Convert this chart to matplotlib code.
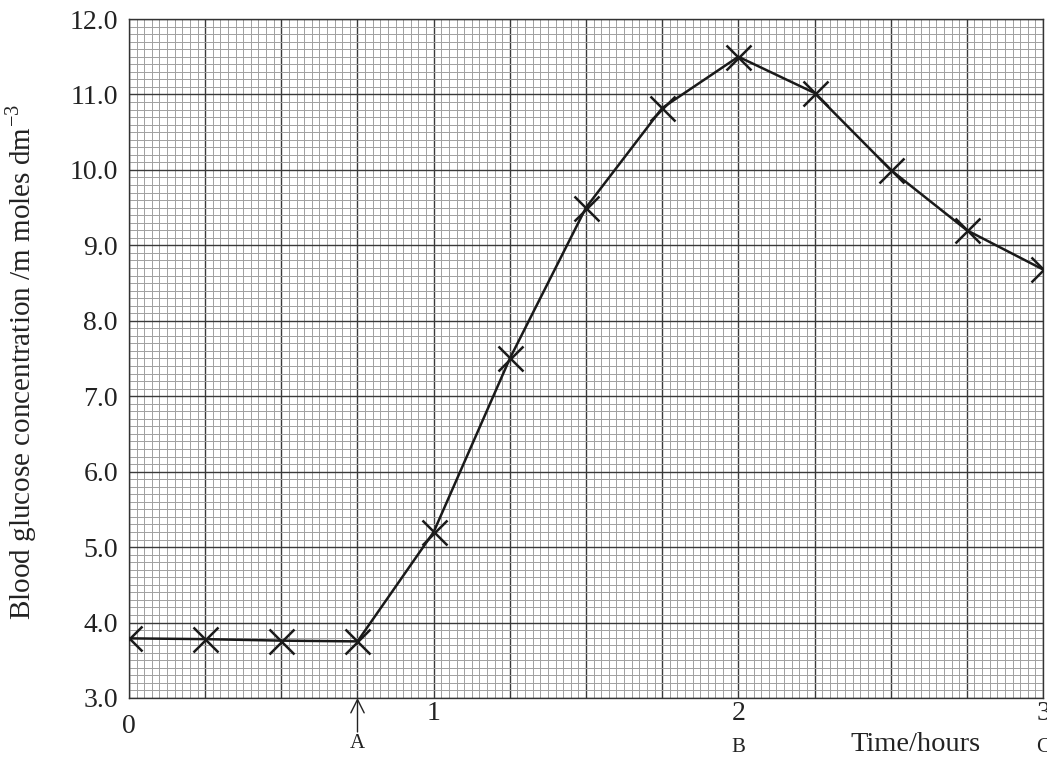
#!/usr/bin/env python
"""
Blood glucose concentration over time, drawn on graph paper style grid.
"""

import numpy as np
import matplotlib
matplotlib.use("Agg")
import matplotlib.pyplot as plt

# Data
time_hours = [0, 0.25, 0.5, 0.75, 1.0, 1.25, 1.5, 1.75, 2.0, 2.25, 2.5, 2.75, 3.0]
glucose = [3.79, 3.78, 3.76, 3.75, 5.2, 7.5, 9.5, 10.82, 11.5, 11.02, 10.0, 9.2, 8.68]

y_ticks = [3, 4, 5, 6, 7, 8, 9, 10, 11, 12]
y_tick_labels = ["3.0", "4.0", "5.0", "6.0", "7.0", "8.0", "9.0", "10.0", "11.0", "12.0"]
x_ticks = [0, 1, 2, 3]
x_tick_labels = ["0", "1", "2", "3"]
markers_x = [0.75, 2.0, 3.0]
markers_text = ["A", "B", "C"]

plt.rcParams["font.family"] = ["Liberation Serif", "DejaVu Serif"]
plt.rcParams["mathtext.fontset"] = "stix"

fig = plt.figure(figsize=(10.47, 7.58), dpi=100)
ax = fig.add_axes([0.1232, 0.0792, 0.873, 0.8957])

# Graph paper grid
ax.set_xlim(0, 3)
ax.set_ylim(3, 12)
ax.set_xticks(np.arange(0, 3.001, 0.25))
ax.set_xticks(np.arange(0, 3.001, 0.025), minor=True)
ax.set_xticklabels([])
ax.set_yticks(y_ticks)
ax.set_yticks(np.arange(3, 12.001, 0.1), minor=True)
ax.set_yticklabels(y_tick_labels, fontsize=20, color="#222222")
ax.tick_params(which="both", length=0)
ax.tick_params(axis="y", pad=8)
ax.grid(which="minor", color="#a0a0a0", linewidth=0.7)
ax.grid(which="major", color="#3a3a3a", linewidth=1.0)
ax.set_axisbelow(True)
for spine in ax.spines.values():
    spine.set_color("#333333")
    spine.set_linewidth(1.0)

# The plotted line with crosses
ax.plot(time_hours, glucose, color="#1a1a1a", linewidth=1.8,
        marker="x", markersize=18, markeredgewidth=1.8, zorder=3)

# x tick labels, the 0 sits a bit lower than the rest
for t, lab in zip(x_ticks, x_tick_labels):
    off = -29 if t == 0 else -16
    ax.annotate(lab, xy=(t, 3), xytext=(0, off), textcoords="offset pixels",
                ha="center", va="center", fontsize=20, color="#222222",
                annotation_clip=False)

# Arrow at A and the letters
ax.annotate("", xy=(0.75, 3), xytext=(0, -34), textcoords="offset pixels",
            xycoords="data", annotation_clip=False,
            arrowprops=dict(arrowstyle="->", color="#222222", lw=1.0,
                            mutation_scale=24, shrinkA=0, shrinkB=0))
for x, lab in zip(markers_x, markers_text):
    off = -46 if lab == "A" else -50
    ax.annotate(lab, xy=(x, 3), xytext=(0, off), textcoords="offset pixels",
                ha="center", va="center", fontsize=15, color="#222222",
                annotation_clip=False)

ax.annotate("Time/hours", xy=(2.58, 3), xytext=(0, -47), textcoords="offset pixels",
            ha="center", va="center", fontsize=20.5, color="#222222",
            annotation_clip=False)

fig.text(0.021, 0.522, r"Blood glucose concentration /m moles dm$^{\mathregular{-3}}$",
         rotation=90, ha="center", va="center", fontsize=21, color="#222222")

fig.savefig("out.png", dpi=100)
